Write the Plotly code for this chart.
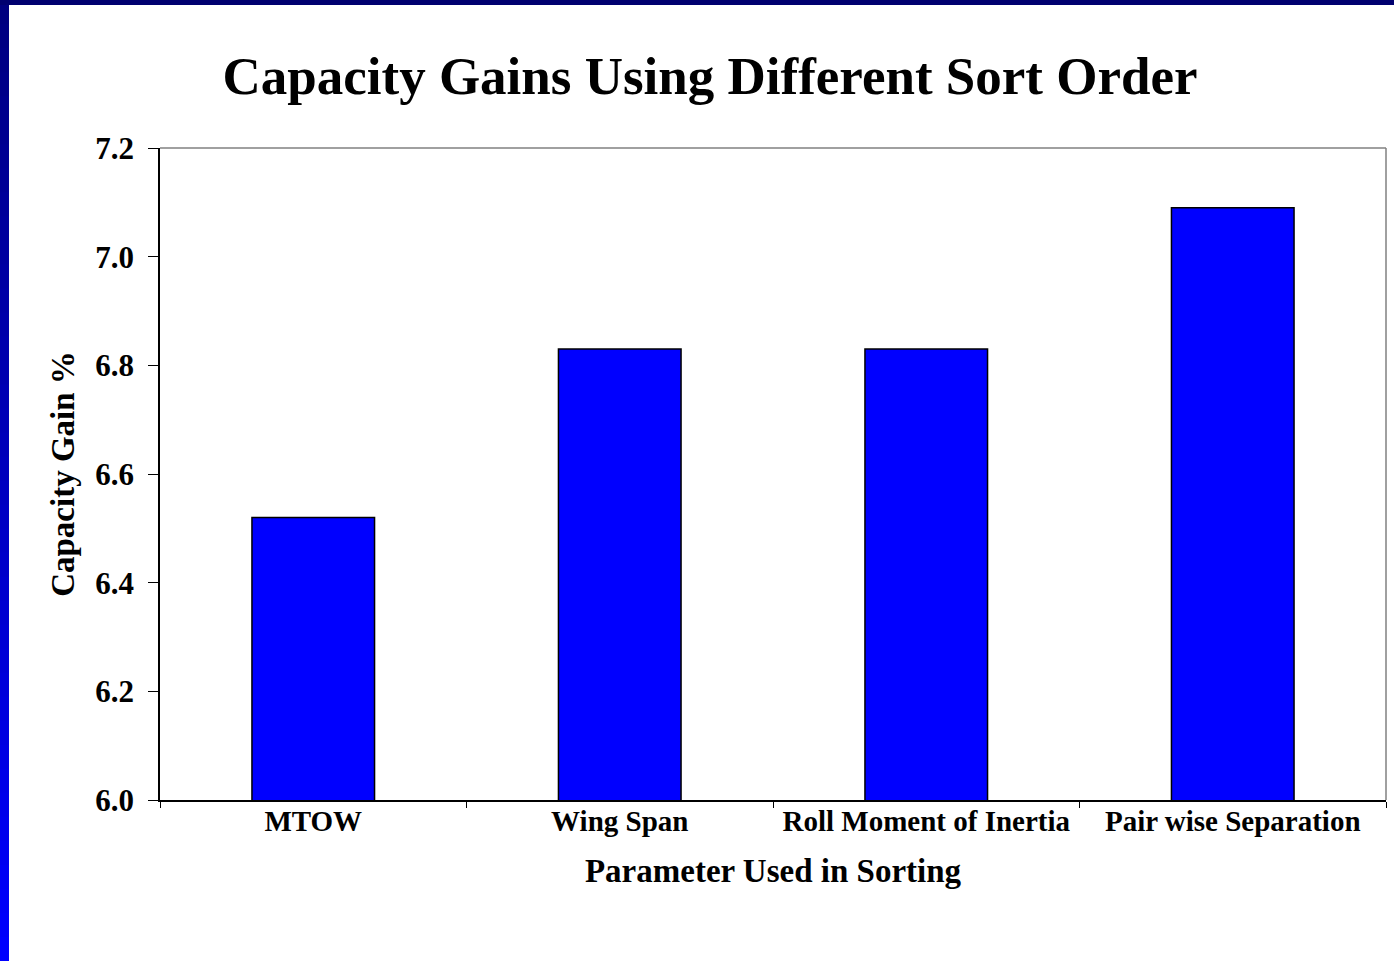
import plotly.graph_objects as go

categories = ["MTOW", "Wing Span", "Roll Moment of Inertia", "Pair wise Separation"]
gains = [6.52, 6.83, 6.83, 7.09]
y_ticks = [6.0, 6.2, 6.4, 6.6, 6.8, 7.0, 7.2]

W, H = 1394, 961
L, R, T, B = 160, 8, 148, 161
PW, PH = W - L - R, H - T - B

def px(x):
    return (x - L) / PW

def py(y):
    return (H - B - y) / PH

FONT = "Liberation Serif, Times New Roman, serif"

fig = go.Figure(go.Bar(
    x=categories, y=gains, width=0.4,
    marker=dict(color="#0000FF", line=dict(color="black", width=1.5)),
))

shapes = []
# left gradient band
n = 40
for i in range(n):
    y0 = H * i / n
    y1 = min(H, H * (i + 1) / n + 2)
    t = i / (n - 1)
    b = int(128 + (255 - 128) * t)
    shapes.append(dict(type="rect", xref="paper", yref="paper",
                       x0=px(0), x1=px(9), y0=py(y1), y1=py(y0),
                       fillcolor=f"rgb(0,0,{b})", line=dict(width=0), layer="above"))
# top band
shapes.append(dict(type="rect", xref="paper", yref="paper",
                   x0=px(0), x1=px(W), y0=py(5), y1=py(0),
                   fillcolor="#000070", line=dict(width=0), layer="above"))
# gray top and right frame
shapes.append(dict(type="line", xref="paper", yref="paper", x0=0, x1=1, y0=1, y1=1,
                   line=dict(color="#808080", width=1.5)))
shapes.append(dict(type="line", xref="paper", yref="paper", x0=1, x1=1, y0=0, y1=1,
                   line=dict(color="#808080", width=1.5)))

fig.update_layout(
    width=W, height=H,
    margin=dict(l=L, r=R, t=T, b=B),
    paper_bgcolor="white", plot_bgcolor="white",
    showlegend=False,
    shapes=shapes,
    title=dict(text="<b>Capacity Gains Using Different Sort Order</b>",
               x=710 / W, xref="container", xanchor="center",
               y=1 - 75 / H, yref="container", yanchor="middle",
               font=dict(family=FONT, size=53, color="black")),
    xaxis=dict(
        showline=True, linecolor="black", linewidth=1.5,
        ticks="outside", tickson="boundaries", ticklen=6, tickcolor="black",
        ticklabelstandoff=-6,
        tickfont=dict(family=FONT, size=29, color="black"),
        tickprefix="<b>", ticksuffix="</b>",
        title=dict(text="<b>Parameter Used in Sorting</b>", standoff=23,
                   font=dict(family=FONT, size=33, color="black")),
        showgrid=False,
    ),
    yaxis=dict(
        range=[6.0, 7.2], tickvals=y_ticks,
        ticktext=[f"<b>{v:.1f}</b>" for v in y_ticks],
        showline=True, linecolor="black", linewidth=1.5,
        ticks="outside", ticklen=10, tickcolor="black",
        ticklabelstandoff=8,
        tickfont=dict(family=FONT, size=31, color="black"),
        title=dict(text="<b>Capacity Gain %</b>", standoff=11,
                   font=dict(family=FONT, size=33, color="black")),
        showgrid=False, zeroline=False,
    ),
)

fig.write_html("out.html")
